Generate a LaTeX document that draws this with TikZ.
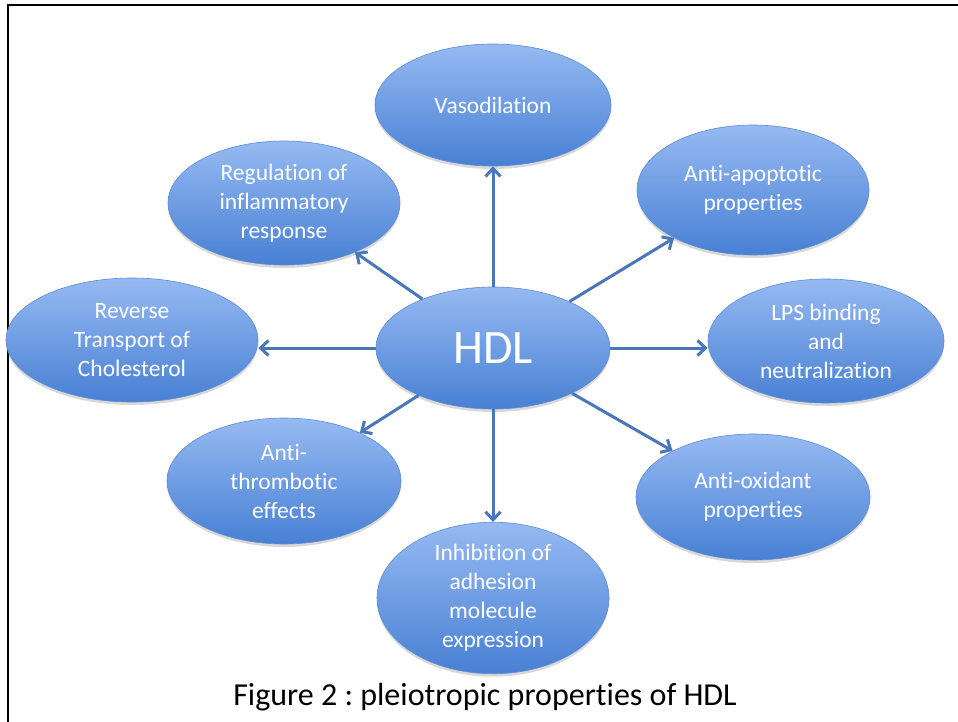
\documentclass[tikz,border=0pt]{standalone}
\usepackage{fontspec}
\setmainfont[Ligatures={NoCommon}]{Carlito}
\usetikzlibrary{shapes.geometric,arrows.meta,shadows}
\definecolor{elltop}{RGB}{150,186,242}
\definecolor{ellbot}{RGB}{72,128,212}
\definecolor{elledge}{RGB}{95,140,210}
\definecolor{arrowc}{RGB}{74,118,186}
\frenchspacing
\tikzset{
  prop/.style={ellipse, inner sep=0pt, top color=elltop, bottom color=ellbot,
    draw=elledge, line width=0.6pt, text=white, align=center,
    font=\fontsize{23.5}{29}\selectfont,
    drop shadow={shadow xshift=0pt, shadow yshift=-3pt, opacity=0.25, fill=black!60}},
  link/.style={draw=arrowc, line width=3pt, -{Straight Barb[length=8pt,width=15pt,line width=3pt]}},
}
\begin{document}
\begin{tikzpicture}[x=1pt,y=-1pt]
\useasboundingbox (0,0) rectangle (958,722);
\fill[white] (0,0) rectangle (958,722);
\draw[line width=2.2pt, black] (8,722) -- (8,5) -- (958,5);

\node[prop, minimum width=234pt, minimum height=122pt] (hdl) at (493,348) {\fontsize{48}{50}\selectfont HDL};
\node[prop, minimum width=236pt, minimum height=122pt] (vaso) at (493,105) {Vasodilation};
\node[prop, minimum width=232pt, minimum height=124pt] (infl) at (284,203) {Regulation of\\inflammatory\\response};
\node[prop, minimum width=232pt, minimum height=130pt] (apop) at (753,190) {Anti-apoptotic\\properties};
\node[prop, minimum width=236pt, minimum height=124pt] (lps) at (826,341) {LPS binding\\and\\neutralization};
\node[prop, minimum width=252pt, minimum height=124pt] (rtc) at (132,340) {Reverse\\Transport of\\Cholesterol};
\node[prop, minimum width=234pt, minimum height=126pt] (thromb) at (284,481) {Anti-\\thrombotic\\effects};
\node[prop, minimum width=234pt, minimum height=126pt] (oxid) at (753,497) {Anti-oxidant\\properties};
\node[prop, minimum width=232pt, minimum height=136pt] (adh) at (493,598) {Inhibition of\\adhesion\\molecule\\expression};

\draw[link] (hdl) -- (vaso);
\draw[link] (hdl) -- (infl);
\draw[link] (hdl) -- (apop);
\draw[link] (hdl.east) -- (lps.west |- hdl.east);
\draw[link] (hdl.west) -- (rtc.east |- hdl.west);
\draw[link] (hdl) -- (thromb);
\draw[link] (hdl) -- (oxid);
\draw[link] (hdl) -- (adh);

\node[font=\fontsize{32}{34}\selectfont, anchor=base] (cap) at (485,705) {Figure 2 : pleiotropic properties of HDL};
\end{tikzpicture}
\end{document}
